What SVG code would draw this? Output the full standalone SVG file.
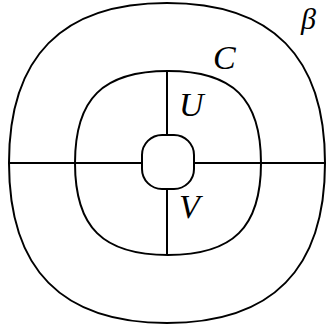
<svg xmlns="http://www.w3.org/2000/svg" width="326" height="327" viewBox="0 0 326 327">
<style>
.s{fill:none;stroke:#000;stroke-width:2}
.t{font-family:"Liberation Serif","Times New Roman",serif;font-style:italic;font-size:34px;fill:#000}
</style>
<rect width="326" height="327" fill="#fff"/>
<g id="beta">
<path class="s" d="M 325 163 C 325 56.8, 271.9 3, 167 3 C 62.1 3, 9 56.8, 9 163 C 9 269.2, 62.1 323, 167 323 C 271.9 323, 325 269.2, 325 163 Z"/>
<text class="t" x="301" y="29" style="font-size:30px">β</text>
</g>
<g id="C">
<path class="s" d="M 261 163 C 261 98.6, 233.1 71, 168 71 C 102.9 71, 75 98.6, 75 163 C 75 227.4, 102.9 255, 168 255 C 233.1 255, 261 227.4, 261 163 Z"/>
<text class="t" x="213" y="69">C</text>
</g>
<g id="inner">
<rect class="s" x="142" y="135" width="52" height="54" rx="20"/>
</g>
<g id="connectors">
<line class="s" x1="9" y1="163" x2="142" y2="163"/>
<line class="s" x1="194" y1="163" x2="326" y2="163"/>
<line class="s" x1="167" y1="71" x2="167" y2="135"/>
<line class="s" x1="167" y1="189" x2="167" y2="255"/>
</g>
<g id="U"><text class="t" x="179" y="116">U</text></g>
<g id="V"><text class="t" x="179" y="218">V</text></g>
</svg>
